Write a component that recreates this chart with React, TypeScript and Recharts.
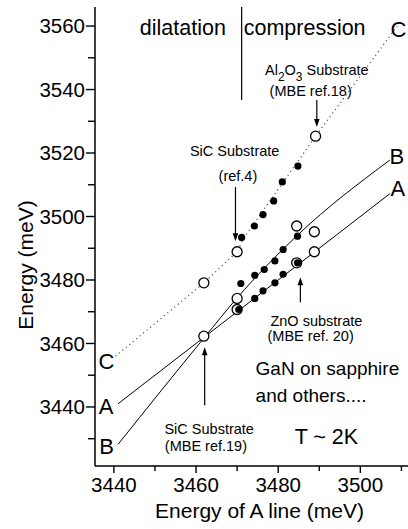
import React from 'react';
import { ComposedChart, Line, Scatter, XAxis, YAxis, ReferenceLine, ReferenceDot } from 'recharts';

const FONT = '"Liberation Sans", Arial, Helvetica, sans-serif';

const xDomain = [3435.4, 3511.6];
const yDomain = [3421.4, 3566];
const xTicks = [3440, 3450, 3460, 3470, 3480, 3490, 3500, 3510];
const yTicks = [3430, 3440, 3450, 3460, 3470, 3480, 3490, 3500, 3510, 3520, 3530, 3540, 3550, 3560];

// open circles
const openCircles = [
  { x: 3461.9, y: 3462.3 },
  { x: 3461.9, y: 3479.1 },
  { x: 3470.0, y: 3488.9 },
  { x: 3470.0, y: 3474.2 },
  { x: 3470.0, y: 3470.7 },
  { x: 3484.5, y: 3497.0 },
  { x: 3488.8, y: 3495.2 },
  { x: 3488.8, y: 3488.9 },
  { x: 3484.5, y: 3485.4 },
  { x: 3489.1, y: 3525.3 },
];

// filled dots
const filledC = [
  { x: 3471.1, y: 3493.4 },
  { x: 3474.2, y: 3497.0 },
  { x: 3476.3, y: 3500.6 },
  { x: 3478.9, y: 3504.9 },
  { x: 3481.0, y: 3510.9 },
  { x: 3484.8, y: 3515.9 },
];
const filledB = [
  { x: 3470.9, y: 3478.9 },
  { x: 3474.3, y: 3481.5 },
  { x: 3476.6, y: 3483.3 },
  { x: 3479.2, y: 3486.0 },
  { x: 3481.2, y: 3489.6 },
  { x: 3484.7, y: 3493.8 },
];
const filledA = [
  { x: 3470.4, y: 3470.7 },
  { x: 3474.3, y: 3474.2 },
  { x: 3476.3, y: 3476.6 },
  { x: 3479.2, y: 3479.1 },
  { x: 3481.2, y: 3481.8 },
  { x: 3484.7, y: 3485.4 },
];

// guide lines
const lineA = [
  { x: 3441.0, y: 3441.0 },
  { x: 3507.2, y: 3507.2 },
];
const lineB = [
  { x: 3441.0, y: 3428.2 },
  { x: 3462.1, y: 3462.0 },
  { x: 3469.9, y: 3474.2 },
  { x: 3484.7, y: 3494.1 },
  { x: 3507.2, y: 3517.8 },
];
const lineC = [
  { x: 3440.4, y: 3456.0 },
  { x: 3461.9, y: 3479.1 },
  { x: 3470.0, y: 3488.9 },
  { x: 3471.5, y: 3493.0 },
  { x: 3489.1, y: 3525.3 },
  { x: 3509.0, y: 3560.0 },
];

// arrows: tail -> tip
const arrows = [
  { x: 3489.4, y1: 3536.7, y2: 3528.2 },
  { x: 3469.6, y1: 3509.3, y2: 3492.2 },
  { x: 3485.4, y1: 3473.0, y2: 3480.9 },
  { x: 3462.1, y1: 3440.5, y2: 3458.8 },
];

const divider = { x: 3471.1, y1: 3566, y2: 3536.7 };

const texts = [
  { x: 3456.8, y: 3557.2, t: 'dilatation', s: 21.5, a: 'middle' },
  { x: 3471.6, y: 3557.2, t: 'compression', s: 21.5, a: 'start' },
  { x: 3509.3, y: 3556.5, t: 'C', s: 22, a: 'middle' },
  { x: 3508.9, y: 3516.5, t: 'B', s: 22, a: 'middle' },
  { x: 3509.1, y: 3506.4, t: 'A', s: 22, a: 'middle' },
  { x: 3438.2, y: 3451.9, t: 'C', s: 22, a: 'middle' },
  { x: 3438.1, y: 3437.7, t: 'A', s: 22, a: 'middle' },
  { x: 3438.2, y: 3425.1, t: 'B', s: 22, a: 'middle' },
  { x: 3487.9, y: 3537.9, t: '(MBE ref.18)', s: 14.5, a: 'middle' },
  { x: 3469.4, y: 3519.0, t: 'SiC Substrate', s: 14.5, a: 'middle' },
  { x: 3470.2, y: 3511.1, t: '(ref.4)', s: 14.5, a: 'middle' },
  { x: 3489.3, y: 3465.4, t: 'ZnO substrate', s: 14.5, a: 'middle' },
  { x: 3487.9, y: 3460.7, t: '(MBE ref. 20)', s: 14.5, a: 'middle' },
  { x: 3474.5, y: 3450.0, t: 'GaN on sapphire', s: 19, a: 'start' },
  { x: 3474.5, y: 3441.5, t: 'and others....', s: 19, a: 'start' },
  { x: 3484.0, y: 3428.2, t: 'T ~ 2K', s: 21.5, a: 'start' },
  { x: 3463.2, y: 3431.4, t: 'SiC Substrate', s: 14.5, a: 'middle' },
  { x: 3462.4, y: 3426.0, t: '(MBE ref.19)', s: 14.5, a: 'middle' },
];
const al2o3Label = { x: 3489.4, y: 3544.5 };

const YTick = (props: any) => {
  const { x, y, payload } = props;
  const major = payload.value % 20 === 0;
  return (
    <g>
      <line x1={x} x2={x - (major ? 9 : 7)} y1={y} y2={y} stroke="#000" strokeWidth={1.4} />
      {major && (
        <text x={x - 10} y={y} dy="0.36em" textAnchor="end" fontSize={20.5} fontFamily={FONT} fill="#000">
          {payload.value}
        </text>
      )}
    </g>
  );
};

const XTick = (props: any) => {
  const { x, y, payload } = props;
  const major = payload.value % 20 === 0;
  return (
    <g>
      <line x1={x} x2={x} y1={y} y2={y + (major ? 7 : 5)} stroke="#000" strokeWidth={1.4} />
      {major && (
        <text x={x} y={y + 26} textAnchor="middle" fontSize={20.5} fontFamily={FONT} fill="#000">
          {payload.value}
        </text>
      )}
    </g>
  );
};

const TopTick = (props: any) => {
  const { x, y } = props;
  return <line x1={x} x2={x} y1={y} y2={y + 6} stroke="#000" strokeWidth={1.4} />;
};

const OpenCircle = (props: any) => (
  <circle cx={props.cx} cy={props.cy} r={5} fill="#fff" stroke="#000" strokeWidth={1.3} />
);
const FilledDot = (props: any) => <circle cx={props.cx} cy={props.cy} r={3.6} fill="#000" />;

const Arrow = (props: any) => {
  const { x1, y1, x2, y2 } = props;
  const s = Math.sign(y2 - y1);
  return (
    <g>
      <line x1={x1} y1={y1} x2={x2} y2={y2 - s * 6} stroke="#000" strokeWidth={1.2} />
      <polygon points={`${x2},${y2} ${x2 - 2.8},${y2 - s * 8} ${x2 + 2.8},${y2 - s * 8}`} fill="#000" />
    </g>
  );
};

const PlainLine = (props: any) => (
  <line x1={props.x1} y1={props.y1} x2={props.x2} y2={props.y2} stroke="#000" strokeWidth={1.2} />
);

export default function App() {
  return (
    <div style={{ position: 'absolute', left: 0, top: 0, width: 408, height: 529, background: '#fff' }}>
      <ComposedChart width={408} height={529} margin={{ top: 7, right: 0, left: 0, bottom: 0 }}>
        <XAxis
          xAxisId="bottom"
          dataKey="x"
          type="number"
          domain={xDomain}
          allowDataOverflow
          ticks={xTicks}
          interval={0}
          height={63}
          tickSize={0}
          tickMargin={0}
          tickLine={false}
          tick={<XTick />}
          axisLine={{ stroke: '#000', strokeWidth: 1.5 }}
          label={(p: any) => {
            const vb = p.viewBox;
            return (
              <text x={vb.x + vb.width / 2 + 8} y={vb.y + 52} textAnchor="middle" fontSize={21} fontFamily={FONT} fill="#000">
                Energy of A line (meV)
              </text>
            );
          }}
        />
        <XAxis
          xAxisId="top"
          orientation="top"
          dataKey="x"
          type="number"
          domain={xDomain}
          allowDataOverflow
          ticks={xTicks}
          interval={0}
          height={0}
          tickSize={0}
          tickMargin={0}
          tickLine={false}
          tick={<TopTick />}
          axisLine={{ stroke: '#000', strokeWidth: 1.5 }}
        />
        <YAxis
          dataKey="y"
          type="number"
          domain={yDomain}
          allowDataOverflow
          ticks={yTicks}
          interval={0}
          width={95}
          tickSize={0}
          tickMargin={0}
          tickLine={false}
          tick={<YTick />}
          axisLine={{ stroke: '#000', strokeWidth: 1.5 }}
          label={(p: any) => (
            <text x={33} y={265} transform="rotate(-90 33 265)" textAnchor="middle" fontSize={21} fontFamily={FONT} fill="#000">
              Energy (meV)
            </text>
          )}
        />
        <Line xAxisId="bottom" data={lineA} dataKey="y" type="linear" stroke="#000" strokeWidth={1} dot={false} isAnimationActive={false} />
        <Line xAxisId="bottom" data={lineB} dataKey="y" type="monotone" stroke="#000" strokeWidth={1} dot={false} isAnimationActive={false} />
        <Line xAxisId="bottom" data={lineC} dataKey="y" type="linear" stroke="#444" strokeWidth={1.3} strokeDasharray="1 3.5" dot={false} isAnimationActive={false} />
        <Scatter xAxisId="bottom" data={openCircles} dataKey="y" shape={<OpenCircle />} isAnimationActive={false} />
        <Scatter xAxisId="bottom" data={filledC} dataKey="y" shape={<FilledDot />} isAnimationActive={false} />
        <Scatter xAxisId="bottom" data={filledB} dataKey="y" shape={<FilledDot />} isAnimationActive={false} />
        <Scatter xAxisId="bottom" data={filledA} dataKey="y" shape={<FilledDot />} isAnimationActive={false} />
        <ReferenceLine
          xAxisId="bottom"
          segment={[{ x: divider.x, y: divider.y1 }, { x: divider.x, y: divider.y2 }]}
          ifOverflow="visible"
          shape={PlainLine}
        />
        {arrows.map((a, i) => (
          <ReferenceLine
            key={'ar' + i}
            xAxisId="bottom"
            segment={[{ x: a.x, y: a.y1 }, { x: a.x, y: a.y2 }]}
            ifOverflow="visible"
            shape={Arrow}
          />
        ))}
        {texts.map((t, i) => (
          <ReferenceDot
            key={'t' + i}
            xAxisId="bottom"
            x={t.x}
            y={t.y}
            r={0}
            ifOverflow="visible"
            shape={(p: any) => (
              <text x={p.cx} y={p.cy} textAnchor={t.a} fontSize={t.s} fontFamily={FONT} fill="#000">
                {t.t}
              </text>
            )}
          />
        ))}
        <ReferenceDot
          xAxisId="bottom"
          x={al2o3Label.x}
          y={al2o3Label.y}
          r={0}
          ifOverflow="visible"
          shape={(p: any) => (
            <text x={p.cx} y={p.cy} textAnchor="middle" fontSize={14.5} fontFamily={FONT} fill="#000">
              Al
              <tspan dy={6} fontSize={12}>2</tspan>
              <tspan dy={-6}>O</tspan>
              <tspan dy={6} fontSize={12}>3</tspan>
              <tspan dy={-6}> Substrate</tspan>
            </text>
          )}
        />
      </ComposedChart>
    </div>
  );
}
